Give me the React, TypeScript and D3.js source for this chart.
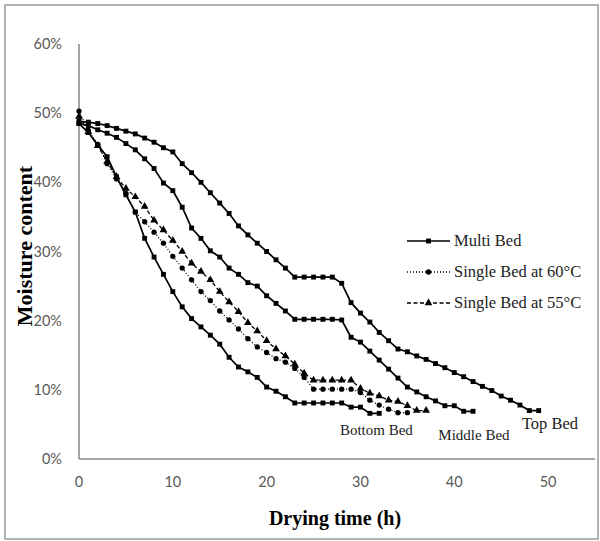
import React, { useEffect, useRef } from 'react'
import * as d3 from 'd3'

// moisture content (%) read at every hour, starting at 0 h
const topBed = [48.8, 48.7, 48.5, 48.2, 47.8, 47.4, 47.0, 46.4, 45.8, 45.0, 44.4, 42.7, 41.4, 40.0, 38.5, 37.0, 35.5, 33.7, 32.4, 31.2, 30.0, 28.8, 27.6, 26.3, 26.3, 26.3, 26.3, 26.3, 25.4, 22.6, 21.1, 19.8, 18.3, 17.1, 15.9, 15.5, 14.9, 14.4, 13.8, 13.2, 12.5, 11.9, 11.2, 10.5, 9.9, 9.1, 8.5, 7.8, 7.0, 7.0]
const middleBed = [48.5, 48.2, 47.6, 47.1, 46.5, 45.6, 44.7, 43.4, 42.0, 39.9, 38.8, 36.4, 33.4, 31.9, 30.1, 29.2, 27.6, 26.7, 25.5, 25.0, 23.6, 22.5, 21.4, 20.2, 20.2, 20.2, 20.2, 20.2, 20.1, 17.6, 16.9, 15.6, 14.3, 13.0, 11.7, 10.4, 9.7, 9.0, 8.4, 7.7, 7.7, 6.9, 6.9]
const bottomBed = [48.5, 47.2, 45.4, 43.7, 40.8, 38.2, 35.7, 31.9, 29.2, 26.7, 24.2, 22.0, 20.3, 19.1, 17.9, 16.6, 14.7, 13.3, 12.6, 11.8, 10.4, 9.8, 9.0, 8.1, 8.1, 8.1, 8.1, 8.1, 8.1, 7.5, 7.5, 6.6, 6.6]
const single60 = [50.3, 47.5, 45.5, 42.7, 40.5, 38.4, 35.7, 34.3, 32.8, 31.2, 29.3, 27.6, 25.9, 24.2, 22.9, 21.4, 20.1, 18.8, 17.4, 16.2, 15.4, 14.5, 14.0, 13.1, 11.8, 10.1, 10.1, 10.1, 10.1, 10.1, 9.6, 8.5, 7.8, 7.2, 6.7, 6.7]
const single55 = [49.5, 47.3, 45.3, 43.0, 40.8, 39.1, 37.9, 36.5, 34.5, 33.1, 31.6, 30.0, 28.3, 27.1, 25.9, 24.2, 22.7, 21.3, 19.7, 18.5, 17.1, 15.9, 14.9, 13.7, 12.4, 11.4, 11.4, 11.4, 11.4, 11.4, 10.2, 9.5, 9.1, 8.5, 8.3, 7.7, 7.0, 7.0]

const xTicks = [0, 10, 20, 30, 40, 50]
const yTicks = [0, 10, 20, 30, 40, 50, 60]

const series = [
  { name: 'Multi Bed', values: topBed, kind: 'square' },
  { name: 'Multi Bed', values: middleBed, kind: 'square' },
  { name: 'Multi Bed', values: bottomBed, kind: 'square' },
  { name: 'Single Bed at 60°C', values: single60, kind: 'circle' },
  { name: 'Single Bed at 55°C', values: single55, kind: 'triangle' }
]
const legendItems = [
  { name: 'Multi Bed', kind: 'square' },
  { name: 'Single Bed at 60°C', kind: 'circle' },
  { name: 'Single Bed at 55°C', kind: 'triangle' }
]
const bedLabels = [
  { text: 'Bottom Bed', t: 31.7, v: 3.5, size: 15 },
  { text: 'Middle Bed', t: 42.1, v: 2.8, size: 15 },
  { text: 'Top Bed', t: 50.2, v: 4.3, size: 16.5 }
]

const width = 600
const height = 541
const margin = { top: 44, right: 5, bottom: 82, left: 79 }

const dash = { square: null, circle: '1,2', triangle: '4,2.5' }
const symbols = {
  square: d3.symbol(d3.symbolSquare, 24),
  circle: d3.symbol(d3.symbolCircle, 22),
  triangle: d3.symbol(d3.symbolTriangle, 26)
}

export default function App () {
  const ref = useRef(null)

  useEffect(() => {
    const svg = d3.select(ref.current)
    svg.selectAll('*').remove()

    const x = d3.scaleLinear().domain([0, 55]).range([margin.left, width - margin.right])
    const y = d3.scaleLinear().domain([0, 60]).range([height - margin.bottom, margin.top])

    svg.append('rect')
      .attr('x', 5).attr('y', 5).attr('width', 593).attr('height', 534)
      .attr('fill', 'white').attr('stroke', '#8c8c8c').attr('stroke-width', 1.3)

    // axes (no tick marks, just the lines and labels)
    svg.append('line')
      .attr('x1', x(0)).attr('x2', x(0)).attr('y1', y(60)).attr('y2', y(0))
      .attr('stroke', '#868686').attr('stroke-width', 1.5)
    svg.append('line')
      .attr('x1', x(0)).attr('x2', x(55)).attr('y1', y(0)).attr('y2', y(0))
      .attr('stroke', '#868686').attr('stroke-width', 1.5)

    svg.append('g').selectAll('text').data(yTicks).join('text')
      .attr('x', 62).attr('y', d => y(d)).attr('dy', '0.35em')
      .attr('text-anchor', 'end')
      .attr('font-family', 'Lato, sans-serif').attr('font-size', 14.5).attr('fill', '#595959')
      .text(d => d + '%')
    svg.append('g').selectAll('text').data(xTicks).join('text')
      .attr('x', d => x(d)).attr('y', y(0) + 23).attr('dy', '0.35em')
      .attr('text-anchor', 'middle')
      .attr('font-family', 'Lato, sans-serif').attr('font-size', 14.5).attr('fill', '#595959')
      .text(d => d)

    svg.append('text')
      .attr('x', x(0) + (x(55) - x(0)) / 2 - 2).attr('y', 525)
      .attr('text-anchor', 'middle')
      .attr('font-family', '"Liberation Serif", "Times New Roman", serif')
      .attr('font-weight', 'bold').attr('font-size', 20)
      .text('Drying time (h)')
    svg.append('text')
      .attr('transform', 'translate(32,246) rotate(-90)')
      .attr('text-anchor', 'middle')
      .attr('font-family', '"Liberation Serif", "Times New Roman", serif')
      .attr('font-weight', 'bold').attr('font-size', 22)
      .text('Moisture content')

    const line = d3.line().x((d, i) => x(i)).y(d => y(d))

    for (const s of series) {
      const g = svg.append('g')
      g.append('path')
        .attr('d', line(s.values))
        .attr('fill', 'none').attr('stroke', 'black')
        .attr('stroke-width', s.kind === 'square' ? 1.7 : 1.3)
        .attr('stroke-dasharray', dash[s.kind])
      g.selectAll('path.m').data(s.values).join('path')
        .attr('class', 'm')
        .attr('transform', (d, i) => `translate(${x(i)},${y(d)})`)
        .attr('d', symbols[s.kind]())
        .attr('fill', 'black')
    }

    // legend
    const lg = svg.append('g')
    legendItems.forEach((item, i) => {
      const ly = 241 + i * 31
      lg.append('line')
        .attr('x1', 407).attr('x2', 450).attr('y1', ly).attr('y2', ly)
        .attr('stroke', 'black')
        .attr('stroke-width', item.kind === 'square' ? 1.7 : 1.3)
        .attr('stroke-dasharray', dash[item.kind])
      lg.append('path')
        .attr('transform', `translate(428.5,${ly})`)
        .attr('d', symbols[item.kind]())
        .attr('fill', 'black')
      lg.append('text')
        .attr('x', 454).attr('y', ly).attr('dy', '0.33em')
        .attr('font-family', '"Liberation Serif", "Times New Roman", serif')
        .attr('font-size', 16.5).attr('fill', '#222')
        .text(item.name)
    })

    svg.append('g').selectAll('text').data(bedLabels).join('text')
      .attr('x', d => x(d.t)).attr('y', d => y(d.v))
      .attr('text-anchor', 'middle')
      .attr('font-family', '"Liberation Serif", "Times New Roman", serif')
      .attr('font-size', d => d.size).attr('fill', '#222')
      .text(d => d.text)
  }, [])

  return (
    <svg
      ref={ref}
      width={width}
      height={height}
      viewBox={`0 0 ${width} ${height}`}
      style={{ position: 'absolute', left: 0, top: 0, background: 'white' }}
    />
  )
}
